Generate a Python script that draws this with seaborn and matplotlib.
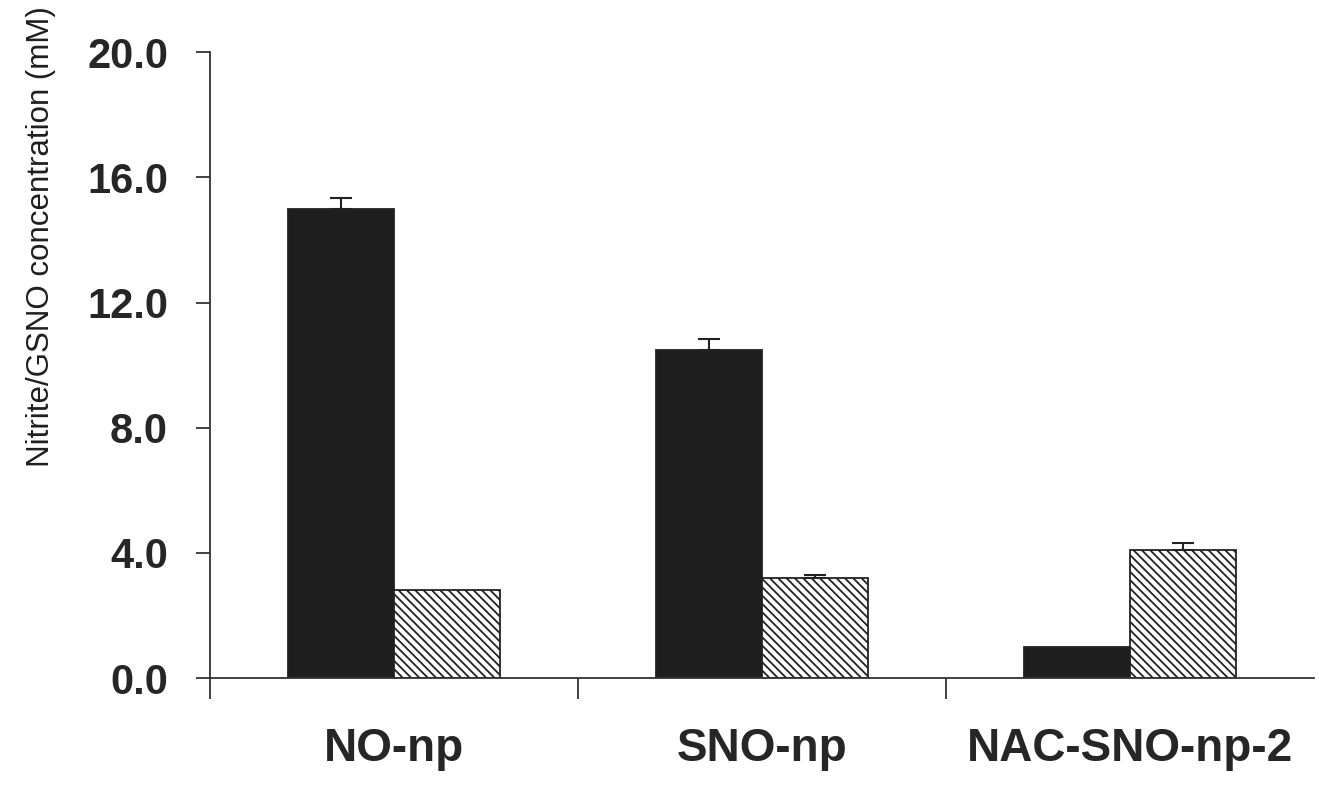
import numpy as np
import pandas as pd
import matplotlib
matplotlib.use('Agg')
import matplotlib.pyplot as plt
import seaborn as sns

## Data
groups = ['NO-np', 'SNO-np', 'NAC-SNO-np-2']
series = ['Nitrite', 'GSNO']
nitrite = [15.0, 10.5, 1.0]
gsno = [2.8, 3.2, 4.1]
nitrite_err = [0.35, 0.35, 0.0]
gsno_err = [0.0, 0.1, 0.2]
yticks = [0.0, 4.0, 8.0, 12.0, 16.0, 20.0]

df = pd.DataFrame({
    'group': groups * 2,
    'series': [series[0]] * 3 + [series[1]] * 3,
    'value': nitrite + gsno,
})

sns.set_style('ticks')
plt.rcParams['font.family'] = ['Liberation Sans', 'DejaVu Sans']
plt.rcParams['hatch.color'] = '#2a2a2a'
plt.rcParams['hatch.linewidth'] = 1.3

fig = plt.figure(figsize=(13.19, 7.87), dpi=100)
ax = fig.add_axes([0.159, 0.1385, 0.837, 0.795])

sns.barplot(data=df, x='group', y='value', hue='series', order=groups,
            hue_order=series, palette=['#1e1e1e', 'white'], width=0.576,
            errorbar=None, edgecolor='#222222', linewidth=1.3, legend=False, ax=ax)

# hatch the second series and add upper-only error bars
errs = nitrite_err + gsno_err
vals = nitrite + gsno
for i, p in enumerate(ax.patches[:6]):
    if i >= 3:
        p.set_hatch('\\\\\\\\')
    if errs[i] > 0:
        xc = p.get_x() + p.get_width() / 2
        ax.errorbar(xc, vals[i], yerr=[[0], [errs[i]]], fmt='none',
                    ecolor='#222222', elinewidth=1.5, capsize=8, capthick=1.5)

ax.set_ylim(0, 20)
ax.set_xlim(-0.5, 2.5)
ax.set_yticks(yticks)
ax.set_yticklabels([f'{t:.1f}' for t in yticks], fontsize=30, fontweight='bold', color='#262626')
ax.set_xticks(range(3))
ax.set_xticklabels(groups, fontsize=33, fontweight='bold', color='#262626')
ax.tick_params(axis='x', which='major', length=0, pad=35)
ax.set_xticks([-0.5, 0.5, 1.5], minor=True)
ax.tick_params(axis='x', which='minor', length=15, width=1.3, color='#333333', direction='out')
ax.tick_params(axis='y', length=10, width=1.3, color='#333333', pad=20)
ax.set_xlabel('')
ax.set_ylabel('Nitrite/GSNO concentration (mM)', fontsize=22.5, color='#1e1e1e',
              fontweight='medium', va='center')
ax.yaxis.set_label_coords(-0.153, 0.706)
ax.spines['top'].set_visible(False)
ax.spines['right'].set_visible(False)
ax.spines['left'].set_color('#333333')
ax.spines['bottom'].set_color('#333333')
ax.spines['left'].set_linewidth(1.3)
ax.spines['bottom'].set_linewidth(1.3)

fig.savefig('out.png', dpi=100)
